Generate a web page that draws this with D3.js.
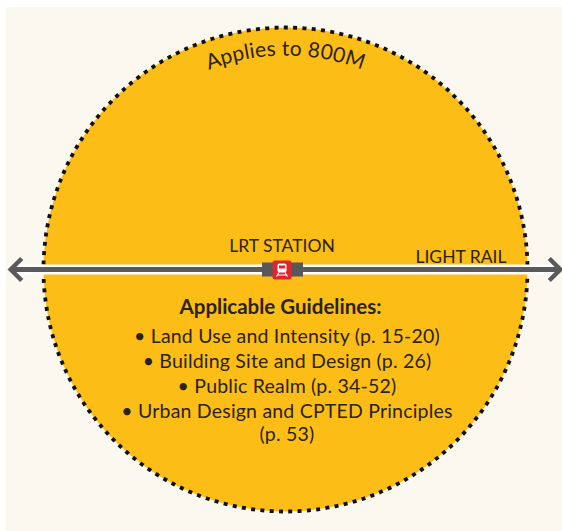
<!DOCTYPE html>
<html>
<head>
<meta charset="utf-8">
<script src="https://cdn.jsdelivr.net/npm/d3@7"></script>
<style>
  html, body { margin: 0; padding: 0; background: #fff; }
  svg { display: block; }
  text { font-family: Lato, "Open Sans", sans-serif; fill: #2a2310; }
</style>
</head>
<body>
<div id="chart"></div>
<script>
// Data
const radiusMetres = 800;
const railExtentMetres = [-915, 915];
const radiusLabel = 'Applies to 800M';
const stationLabel = 'LRT STATION';
const railLabel = 'LIGHT RAIL';
const guidelinesTitle = 'Applicable Guidelines:';
const guidelines = [
  '• Land Use and Intensity (p. 15-20)',
  '• Building Site and Design (p. 26)',
  '• Public Realm (p. 34-52)',
  '• Urban Design and CPTED Principles',
  '(p. 53)'
];

const WIDTH = 562;
const HEIGHT = 531;
const CX = 285.5;
const CY = 269.5;

const svg = d3.select('#chart').append('svg')
  .attr('width', WIDTH)
  .attr('height', HEIGHT)
  .attr('viewBox', `0 0 ${WIDTH} ${HEIGHT}`);

// metres from the station -> pixels
const rScale = d3.scaleLinear().domain([0, radiusMetres]).range([0, 242]);
const xScale = d3.scaleLinear().domain([-radiusMetres, radiusMetres]).range([CX - 242, CX + 242]);

// cream paper
svg.append('rect')
  .attr('x', 6).attr('y', 7)
  .attr('width', WIDTH - 6).attr('height', HEIGHT - 7)
  .attr('fill', '#fbf8ef');

// catchment circle
svg.append('circle')
  .attr('cx', CX).attr('cy', CY)
  .attr('r', rScale(radiusMetres))
  .attr('fill', '#fdbd17')
  .attr('stroke', '#111')
  .attr('stroke-width', 3.8)
  .attr('stroke-dasharray', '4 5.33');

// curved label
const labelArc = d3.path();
labelArc.arc(CX, CY, 214, -Math.PI, 0);
const defs = svg.append('defs');
defs.append('path').attr('id', 'label-arc').attr('d', labelArc.toString());

svg.append('text')
  .attr('font-size', 21)
  .attr('letter-spacing', 0.2)
  .append('textPath')
  .attr('href', '#label-arc')
  .attr('startOffset', '50%')
  .attr('text-anchor', 'middle')
  .text(radiusLabel);

// rail line
const railY = 269.5;
svg.append('line')
  .attr('x1', xScale(railExtentMetres[0]) + 4).attr('x2', xScale(railExtentMetres[1]) - 4)
  .attr('y1', railY).attr('y2', railY)
  .attr('stroke', '#fff').attr('stroke-width', 10);

svg.append('line')
  .attr('x1', xScale(railExtentMetres[0]) + 4).attr('x2', xScale(railExtentMetres[1]) - 4)
  .attr('y1', railY).attr('y2', railY)
  .attr('stroke', '#5a5a5c').attr('stroke-width', 5);

// arrow heads
railExtentMetres.forEach(m => {
  const tip = xScale(m);
  const dir = m < 0 ? 1 : -1;
  svg.append('path')
    .attr('d', `M${tip + dir * 13},${railY - 11}L${tip + dir * 2},${railY}L${tip + dir * 13},${railY + 11}`)
    .attr('fill', 'none')
    .attr('stroke', '#5a5a5c')
    .attr('stroke-width', 4.5);
});

// station block
const stationX = xScale(0) - 3.5;
svg.append('rect')
  .attr('x', stationX - 20).attr('y', railY - 7)
  .attr('width', 41).attr('height', 14)
  .attr('fill', '#58585a');

svg.append('rect')
  .attr('x', stationX - 9.5).attr('y', railY - 9)
  .attr('width', 19).attr('height', 19)
  .attr('rx', 2.5)
  .attr('fill', '#e0252f');

// train icon
const icon = svg.append('g').attr('transform', `translate(${stationX},${railY})`);
icon.append('rect')
  .attr('x', -4.5).attr('y', -6).attr('width', 9).attr('height', 9)
  .attr('rx', 2).attr('fill', '#fff');
icon.append('rect')
  .attr('x', -3).attr('y', -4).attr('width', 6).attr('height', 3)
  .attr('fill', '#e0252f');
icon.append('path')
  .attr('d', 'M-3,3L-5.5,7M3,3L5.5,7M-4,5.5H4')
  .attr('stroke', '#fff').attr('stroke-width', 1.2).attr('fill', 'none');

// labels
svg.append('text')
  .attr('x', 282).attr('y', 252)
  .attr('text-anchor', 'middle')
  .attr('font-size', 17.5)
  .text(stationLabel);

svg.append('text')
  .attr('x', 461).attr('y', 263)
  .attr('text-anchor', 'middle')
  .attr('font-size', 17.5)
  .text(railLabel);

svg.append('text')
  .attr('x', 280.5).attr('y', 314)
  .attr('text-anchor', 'middle')
  .attr('font-size', 20.5)
  .attr('font-weight', 700)
  .text(guidelinesTitle);

// guideline list, baselines step down from the title
const lineY = d3.scaleOrdinal()
  .domain(guidelines)
  .range([343, 368, 393, 418, 441]);

svg.append('g')
  .selectAll('text')
  .data(guidelines)
  .join('text')
  .attr('x', 287)
  .attr('y', d => lineY(d))
  .attr('text-anchor', 'middle')
  .attr('font-size', 19.5)
  .attr('letter-spacing', 0.2)
  .text(d => d);
</script>
</body>
</html>
